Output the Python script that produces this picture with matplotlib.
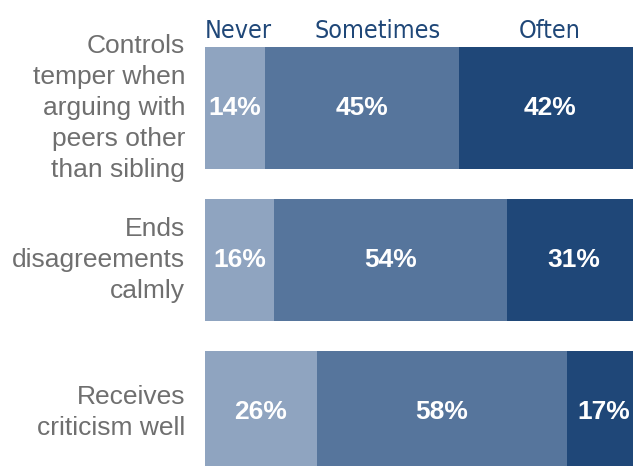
import matplotlib.pyplot as plt

categories = ['Controls\ntemper when\narguing with\npeers other\nthan sibling',
              'Ends\ndisagreements\ncalmly',
              'Receives\ncriticism well']
series = ['Never', 'Sometimes', 'Often']
never = [14, 16, 26]
sometimes = [45, 54, 58]
often = [42, 31, 17]
header_x = [7.7, 40.1, 80.0]

colors = ['#8fa4c0', '#56759c', '#1f4778']
label_gray = '#6f6f6f'

fig = plt.figure(figsize=(6.33, 4.66), dpi=100)
ax = fig.add_axes([205 / 633, 0, 428 / 633, 1])

ys = range(len(categories))
left = [0] * len(categories)
for vals, col in zip([never, sometimes, often], colors):
    ax.barh(ys, vals, left=left, height=0.8, color=col, edgecolor='none')
    for y, l, v in zip(ys, left, vals):
        ax.text(l + v / 2, y, f'{v}%', ha='center', va='center',
                color='white', fontsize=19, fontweight='bold',
                family='Liberation Sans')
    left = [l + v for l, v in zip(left, vals)]

for name, x in zip(series, header_x):
    ax.text(x, -0.507, name, ha='center', va='center', color=colors[2],
            fontsize=18, stretch='condensed',
            family=['Liberation Sans Narrow', 'DejaVu Sans'])

for y, cat in zip(ys, categories):
    ax.text(-4.6, y, cat, ha='right', va='center', color=label_gray,
            fontsize=19, linespacing=1.37, family='Liberation Sans')

ax.set_xlim(0, 99.3)
ax.set_ylim(2.355, -0.7105)
ax.axis('off')

fig.savefig('out.png', dpi=100)
